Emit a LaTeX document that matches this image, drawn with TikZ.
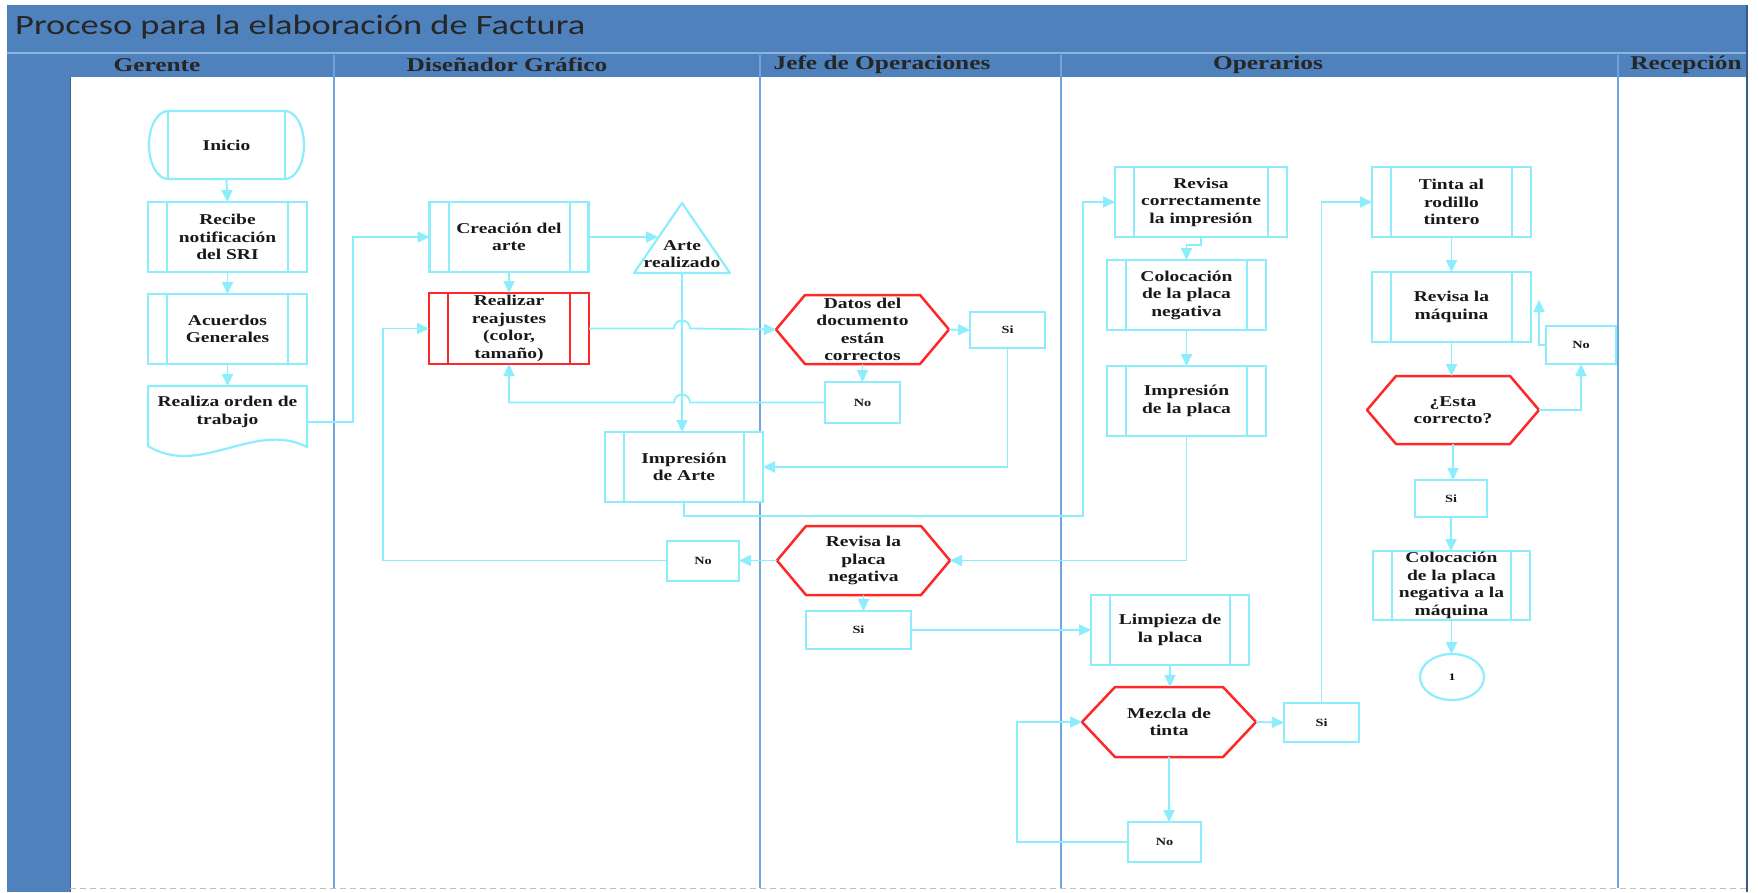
\documentclass[tikz,border=0pt]{standalone}
\usepackage{fontspec}
\setmainfont{Liberation Serif}
\newfontfamily\nfont{Liberation Serif}[FakeStretch=1.3]
\newfontfamily\tfont{Carlito}[FakeStretch=1.3]
\usetikzlibrary{arrows.meta,calc,shapes.geometric}
\definecolor{bandblue}{RGB}{79,130,189}
\definecolor{laneblue}{RGB}{110,165,225}
\definecolor{sepblue}{RGB}{140,180,220}
\definecolor{cy}{RGB}{140,238,252}
\definecolor{rd}{RGB}{255,40,40}
\newcommand\procbars[2]{\draw[#2,line width=2pt] ([xshift=19pt]#1.north west) -- ([xshift=19pt]#1.south west) ([xshift=-19pt]#1.north east) -- ([xshift=-19pt]#1.south east);}
\newcommand\hexshape[2]{\draw[rd,line width=2.5pt,line join=round] (#1.west) -- ([xshift=#2]#1.north west) -- ([xshift=-#2]#1.north east) -- (#1.east) -- ([xshift=-#2]#1.south east) -- ([xshift=#2]#1.south west) -- cycle;}
\tikzset{
  base/.style={inner sep=1pt, outer sep=0pt, align=center, text=black!90, font=\nfont\bfseries\fontsize{15}{17.5}\selectfont},
  proc/.style={base, draw=cy, line width=2.2pt, fill=white, minimum width=159pt, minimum height=70pt},
  redproc/.style={proc, draw=rd, line width=2.5pt},
  hexnode/.style={base, minimum width=173pt, minimum height=69pt},
  lbl/.style={base, draw=cy, line width=2pt, fill=white, font=\nfont\bfseries\fontsize{11}{12}\selectfont},
  conn/.style={draw=cy, line width=1.8pt, -{Triangle[length=12pt,width=11pt]}},
  lane/.style={draw=laneblue, line width=2pt},
  hdr/.style={font=\nfont\bfseries\fontsize{19.5}{20}\selectfont, text=black!85, inner sep=0pt},
  shapeline/.style={draw=cy, line width=2.2pt, line join=round},
}
\begin{document}
\begin{tikzpicture}[x=1pt,y=-1pt]
\useasboundingbox (0,0) rectangle (1758,892);
\fill[white] (0,0) rectangle (1758,892);
% frame and bands
\fill[bandblue] (7,5) rectangle (1747,77);
\fill[bandblue] (7,77) rectangle (70,892);
\draw[sepblue, line width=1.5pt] (7,53) -- (1747,53);
\draw[bandblue!75!black, line width=1pt] (70,77) -- (70,892);
\draw[black!25, line width=1pt, dash pattern=on 6pt off 4pt] (70,888) -- (1747,888);
\draw[bandblue!70!black, line width=1.5pt] (1747,5) -- (1747,892);
\foreach \lx in {334,760,1061,1618} \draw[lane] (\lx,55) -- (\lx,888);
% title and headers
\node[anchor=west, font=\tfont\fontsize{28}{30}\selectfont, text=black!85, inner sep=0pt] (title) at (15,27) {Proceso para la elaboración de Factura};
\node[hdr] (hG) at (157,65) {Gerente};
\node[hdr] (hD) at (507,65) {Diseñador Gráfico};
\node[hdr] (hJ) at (882,65) {Jefe de Operaciones};
\node[hdr] (hO) at (1268,65) {Operarios};
\node[hdr] (hR) at (1686,65) {Recepción};

% ---- Gerente
\node[base, minimum width=117pt, minimum height=68pt] (inicio) at (226.5,145) {Inicio};
\draw[shapeline] (inicio.north west) -- (inicio.north east) arc[start angle=90,end angle=-90,x radius=19pt,y radius=34pt] -- (inicio.south west) arc[start angle=270,end angle=90,x radius=19pt,y radius=34pt] -- cycle;
\draw[shapeline] (inicio.north west) -- (inicio.south west) (inicio.north east) -- (inicio.south east);
\node[proc] (recibe) at (227.5,237) {Recibe\\notificación\\del SRI};
\procbars{recibe}{cy}
\node[proc] (acuerdos) at (227.5,329) {Acuerdos\\Generales};
\procbars{acuerdos}{cy}
\node[base, minimum width=159pt, minimum height=52pt] (orden) at (227.5,412) {Realiza orden de\\trabajo};
\draw[shapeline] (orden.north west) -- (orden.north east) -- (307,447) .. controls (255,420) and (200,478) .. (148,446) -- cycle;

% ---- Disenador
\node[proc] (crea) at (509,237) {Creación del\\arte};
\procbars{crea}{cy}
\node[redproc, minimum width=160pt, minimum height=71pt] (reaj) at (509,328.5) {Realizar\\reajustes\\(color,\\tamaño)};
\procbars{reaj}{rd}
\node[minimum width=96pt, minimum height=70pt, inner sep=0pt, outer sep=0pt] (arte) at (682,238) {};
\draw[shapeline] (arte.south west) -- (arte.north) -- (arte.south east) -- cycle;
\node[base] (arteT) at (682,254) {Arte\\realizado};
\coordinate (arteIn) at ($(arte.south west)!0.5!(arte.north)$);
\node[proc, minimum width=158pt] (impArte) at (684,467) {Impresión\\de Arte};
\procbars{impArte}{cy}

% ---- Jefe de Operaciones
\node[hexnode] (datos) at (862.5,329.5) {Datos del\\documento\\están\\correctos};
\hexshape{datos}{29pt}
\node[lbl, minimum width=75pt, minimum height=36pt] (si1) at (1007.5,330) {Si};
\node[lbl, minimum width=75pt, minimum height=41pt] (no1) at (862.5,402.5) {No};
\node[hexnode] (revPlaca) at (863.5,560.5) {Revisa la\\placa\\negativa};
\hexshape{revPlaca}{29pt}
\node[lbl, minimum width=72pt, minimum height=40pt] (no2) at (703,560.5) {No};
\node[lbl, minimum width=105pt, minimum height=38pt] (si2) at (858.5,630) {Si};

% ---- Operarios
\node[proc, minimum width=172pt] (revImp) at (1201,202) {Revisa\\correctamente\\la impresión};
\procbars{revImp}{cy}
\node[proc] (coloc) at (1186.5,295) {Colocación\\de la placa\\negativa};
\procbars{coloc}{cy}
\node[proc] (impPlaca) at (1186.5,401) {Impresión\\de la placa};
\procbars{impPlaca}{cy}
\node[proc, minimum width=158pt] (limp) at (1170,630) {Limpieza de\\la placa};
\procbars{limp}{cy}
\node[hexnode, minimum width=174pt, minimum height=70pt] (mezcla) at (1169,722) {Mezcla de\\tinta};
\hexshape{mezcla}{33pt}
\node[lbl, minimum width=75pt, minimum height=39pt] (si3) at (1321.5,722.5) {Si};
\node[lbl, minimum width=73pt, minimum height=40pt] (no3) at (1164.5,842) {No};
\node[proc] (tinta) at (1451.5,202) {Tinta al\\rodillo\\tintero};
\procbars{tinta}{cy}
\node[proc] (revMaq) at (1451.5,307) {Revisa la\\máquina};
\procbars{revMaq}{cy}
\node[hexnode, minimum width=172pt, minimum height=68pt] (esta) at (1453,410) {¿Esta\\correcto?};
\hexshape{esta}{29pt}
\node[lbl, minimum width=72pt, minimum height=37pt] (si4) at (1451,498.5) {Si};
\node[proc, minimum width=157pt, minimum height=69pt] (colMaq) at (1451.5,585.5) {Colocación\\de la placa\\negativa a la\\máquina};
\procbars{colMaq}{cy}
\node[ellipse, draw=cy, line width=2.2pt, minimum width=64pt, minimum height=46pt, inner sep=0pt, outer sep=0pt, font=\nfont\bfseries\fontsize{10}{11}\selectfont] (uno) at (1452,677) {1};
\node[lbl, minimum width=70pt, minimum height=38pt] (no4) at (1581,345) {No};

% ---- connectors
\draw[conn] (inicio.south) -- (recibe.north);
\draw[conn] (recibe.south) -- (acuerdos.north);
\draw[conn] (acuerdos.south) -- (orden.north);
\draw[conn] ([yshift=-10pt]orden.east) -- ++(46,0) |- (crea.west);
\draw[conn] (crea.south) -- (reaj.north);
\draw[conn] (crea.east) -- (crea.east -| arteIn);
\draw[conn] (arte.south) -- (arte.south |- impArte.north);
\coordinate (hop1) at (arte.south |- reaj.east);
\draw[conn] (reaj.east) -- ([xshift=-8pt]hop1) arc[start angle=180,end angle=0,radius=8pt] -- (datos.west);
\draw[conn] (datos.east) -- (si1.west);
\draw[conn] (datos.south) -- (datos.south |- no1.north);
\coordinate (hop2) at (arte.south |- no1.west);
\draw[conn] (no1.west) -- ([xshift=8pt]hop2) arc[start angle=0,end angle=180,radius=8pt] -- (reaj.south |- no1.west) -- (reaj.south);
\draw[conn] (si1.south) |- (impArte.east);
\coordinate (b13) at (1083,516);
\draw[conn] (impArte.south) |- (b13) |- (revImp.west);
\draw[conn] (revImp.south) -- ++(0,8) -| (coloc.north);
\draw[conn] (coloc.south) -- (impPlaca.north);
\draw[conn] (impPlaca.south) |- (revPlaca.east);
\draw[conn] (revPlaca.west) -- (no2.east);
\coordinate (b18) at (383,560.5);
\draw[conn] (no2.west) -- (b18) |- (reaj.west);
\draw[conn] (revPlaca.south) -- (revPlaca.south |- si2.north);
\draw[conn] (si2.east) -- (limp.west);
\draw[conn] (limp.south) -- (limp.south |- mezcla.north);
\draw[conn] (mezcla.east) -- (si3.west);
\draw[conn] (mezcla.south) -- (mezcla.south |- no3.north);
\coordinate (b24) at (1017,842);
\draw[conn] (no3.west) -- (b24) |- (mezcla.west);
\draw[conn] (si3.north) |- (tinta.west);
\draw[conn] (tinta.south) -- (revMaq.north);
\draw[conn] (revMaq.south) -- (revMaq.south |- esta.north);
\draw[conn] (esta.east) -| (no4.south);
\draw[conn] (no4.west) -| ([shift={(8pt,7pt)}]revMaq.east);
\draw[conn] (esta.south) -- (esta.south |- si4.north);
\draw[conn] (si4.south) -- (si4.south |- colMaq.north);
\draw[conn] (colMaq.south) -- (colMaq.south |- uno.north);
\end{tikzpicture}
\end{document}
